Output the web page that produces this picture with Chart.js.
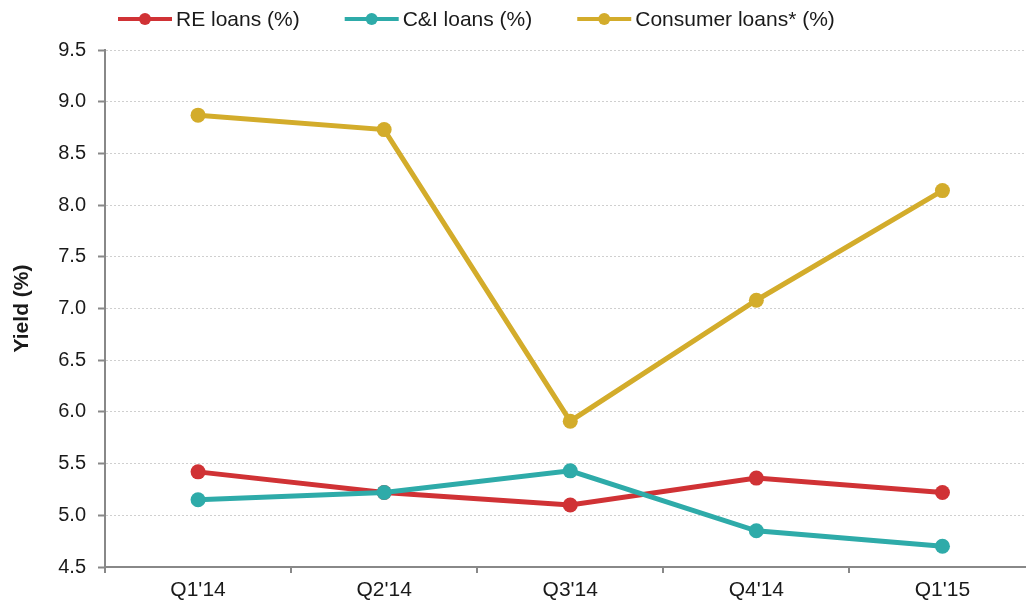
<!DOCTYPE html>
<html>
<head>
<meta charset="utf-8">
<script src="https://cdn.jsdelivr.net/npm/chart.js@4"></script>
<style>
  html, body { margin: 0; padding: 0; background: #fff; overflow: hidden; }
  #wrap { width: 1043px; height: 606px; position: relative; }
</style>
</head>
<body>
<div id="wrap"><canvas id="myChart"></canvas></div>
<script>
var quarters = ["Q1'14", "Q2'14", "Q3'14", "Q4'14", "Q1'15"];
var reLoans = [5.42, 5.22, 5.10, 5.36, 5.22];
var ciLoans = [5.15, 5.22, 5.43, 4.85, 4.70];
var consumerLoans = [8.87, 8.73, 5.91, 7.08, 8.14];
var seriesNames = ['RE loans (%)', 'C&I loans (%)', 'Consumer loans* (%)'];
var seriesColors = ['#D03235', '#2EABA9', '#D3AC2B'];

var fontFamily = "'Liberation Sans', Arial, sans-serif";

// legend with a line and a dot, drawn on top of the canvas
var lineLegend = {
    id: 'lineLegend',
    afterDraw: function(chart) {
        var ctx = chart.ctx;
        var x = 118, y = 19;
        ctx.save();
        ctx.font = '21px ' + fontFamily;
        ctx.textBaseline = 'middle';
        chart.data.datasets.forEach(function(ds) {
            ctx.strokeStyle = ds.borderColor;
            ctx.lineWidth = 4;
            ctx.beginPath();
            ctx.moveTo(x, y);
            ctx.lineTo(x + 54, y);
            ctx.stroke();
            ctx.fillStyle = ds.borderColor;
            ctx.beginPath();
            ctx.arc(x + 27, y, 6, 0, Math.PI * 2);
            ctx.fill();
            ctx.fillStyle = '#1a1a1a';
            ctx.fillText(ds.label, x + 58, y + 1);
            x += 58 + ctx.measureText(ds.label).width + 45;
        });
        ctx.restore();
    }
};

function makeSet(i, values, order) {
    return {
        label: seriesNames[i],
        data: values,
        borderColor: seriesColors[i],
        backgroundColor: seriesColors[i],
        pointBackgroundColor: seriesColors[i],
        pointBorderWidth: 0,
        pointRadius: 7.5,
        borderWidth: 5,
        tension: 0,
        order: order
    };
}

var ctx = document.getElementById('myChart');
var myChart = new Chart(ctx, {
    type: 'line',
    data: {
        labels: quarters,
        datasets: [
            makeSet(0, reLoans, 3),
            makeSet(1, ciLoans, 2),
            makeSet(2, consumerLoans, 1)
        ]
    },
    options: {
        responsive: true,
        maintainAspectRatio: false,
        animation: false,
        layout: { padding: { top: 50, left: 0, right: 0, bottom: 0 } },
        plugins: {
            legend: { display: false },
            tooltip: { enabled: false }
        },
        scales: {
            x: {
                offset: true,
                grid: {
                    offset: true,
                    drawOnChartArea: false,
                    drawTicks: true,
                    tickLength: 6,
                    tickColor: '#888',
                    lineWidth: 2
                },
                border: { color: '#888', width: 2 },
                ticks: {
                    color: '#1a1a1a',
                    padding: 5,
                    maxRotation: 0,
                    font: { family: fontFamily, size: 21 }
                },
                afterFit: function(scale) { scale.height = 39; }
            },
            y: {
                min: 4.5,
                max: 9.5,
                grid: {
                    color: '#cfcfcf',
                    lineWidth: 1,
                    drawTicks: true,
                    tickLength: 7,
                    tickColor: '#888',
                    tickWidth: 2,
                    tickBorderDash: [0, 0]
                },
                border: { color: '#888', width: 2, dash: [2, 2] },
                ticks: {
                    stepSize: 0.5,
                    color: '#1a1a1a',
                    padding: 12,
                    font: { family: fontFamily, size: 20 },
                    callback: function(v) { return Number(v).toFixed(1); }
                },
                title: {
                    display: true,
                    text: 'Yield (%)',
                    color: '#1a1a1a',
                    padding: { top: 10, bottom: 0 },
                    font: { family: fontFamily, size: 21, weight: 'bold' }
                },
                afterFit: function(scale) { scale.width = 105; }
            }
        }
    },
    plugins: [lineLegend]
});
</script>
</body>
</html>
